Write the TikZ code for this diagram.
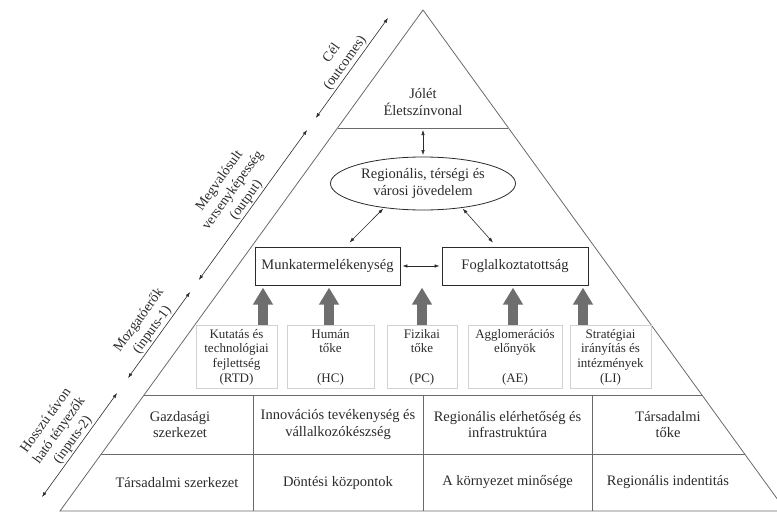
\documentclass[tikz,border=0pt]{standalone}
\usepackage{fontspec}
\setmainfont{Liberation Serif}
\usetikzlibrary{arrows.meta,calc,shapes.geometric}
\definecolor{inkgray}{HTML}{2B2B2B}
\definecolor{linegray}{HTML}{6A6A6A}
\definecolor{boxgray}{HTML}{D2D2D2}
\definecolor{blockgray}{HTML}{6E6E6E}

\begin{document}
\begin{tikzpicture}[x=1pt,y=-1pt,
    font=\fontsize{14.5}{16.5}\selectfont, text=inkgray,
    >={Latex[length=5pt,width=3.5pt]},
    bigbox/.style={draw=inkgray, line width=0.9pt, minimum height=38pt, inner sep=0pt},
    smallbox/.style={draw=boxgray, line width=0.8pt, minimum height=63pt, inner sep=0pt, align=center, font=\fontsize{13}{14.7}\selectfont},
    cell/.style={align=center},
    sidelbl/.style={align=center, inner sep=1.5pt, font=\fontsize{14}{16.5}\selectfont},
    sidearrow/.style={<->, inkgray, line width=0.6pt},
    blockarrow/.style={line width=9.5pt, blockgray, -{Triangle[length=17pt,width=19pt]}}]
    \clip (0,0) rectangle (777,514);

    \coordinate (apex) at (423,10);
    \coordinate (bl) at (60,511);
    \coordinate (br) at (786,511);
    \draw[linegray, line width=0.8pt] (apex) -- (bl) -- (br) -- cycle;
    \foreach \t in {0.2355, 0.7685, 0.8862} {
        \draw[linegray, line width=0.8pt] ($(apex)!\t!(bl)$) -- ($(apex)!\t!(br)$);
    }
    \foreach \x in {253, 423, 592} {
        \draw[linegray, line width=0.8pt] (\x,395) -- (\x,511);
    }

    \node (jolet) at (423,102) [align=center] {Jólét\\Életszínvonal};
    \node (inc) at (423,183.5) [ellipse, draw=inkgray, line width=0.8pt, minimum width=185pt, minimum height=53pt, inner sep=0pt, align=center] {Regionális, térségi és\\városi jövedelem};
    \node (munka) at (327.5,266) [bigbox, minimum width=145pt] {Munkatermelékenység};
    \node (fogl) at (515,266) [bigbox, minimum width=146pt] {Foglalkoztatottság};

    \coordinate (joletline) at (423,130);
    \draw[sidearrow, shorten >=1.5pt] (joletline) -- (inc.north);
    \draw[sidearrow, shorten <=1pt] (inc.212) -- ($(munka.north)+(22,-4)$);
    \draw[sidearrow, shorten <=1pt] (inc.-32) -- ($(fogl.north)+(-22,-4)$);
    \draw[sidearrow] ([xshift=2pt]munka.east) -- ([xshift=-2pt]fogl.west);

    \node (rtd) at (236.5,357) [smallbox, minimum width=81pt] {Kutatás és\\technológiai\\fejlettség\\(RTD)};
    \node (hc) at (330.5,357) [smallbox, minimum width=87pt] {Humán\\tőke\\[14.7pt](HC)};
    \node (pc) at (422,357) [smallbox, minimum width=70pt] {Fizikai\\tőke\\[14.7pt](PC)};
    \node (ae) at (515,357) [smallbox, minimum width=94pt] {Agglomerációs\\előnyök\\[14.7pt](AE)};
    \node (li) at (610.5,357) [smallbox, minimum width=81pt] {Stratégiai\\irányítás és\\intézmények\\(LI)};
    \foreach \src/\dx in {rtd/26.5, hc/-1.5, pc/0, ae/-2, li/-27.5} {
        \draw[blockarrow] ($(\src.north)+(\dx,-0.5)$) -- ++(0,-37);
    }

    \node (gazd) at (180,424.5) [cell] {Gazdasági\\szerkezet};
    \node (innov) at (338,424.5) [cell] {Innovációs tevékenység és\\vállalkozókészség};
    \node (infra) at (507.5,424.5) [cell] {Regionális elérhetőség és\\infrastruktúra};
    \node (tarstoke) at (668,424.5) [cell] {Társadalmi\\tőke};
    \node (tarsszerk) at (177,482.5) {Társadalmi szerkezet};
    \node (dontes) at (338,482.5) {Döntési központok};
    \node (korny) at (507.5,482.5) {A környezet minősége};
    \node (ident) at (668,482.5) {Regionális indentitás};

    % levels along the left side
    \coordinate (s1a) at (388,18);    \coordinate (s1b) at (315.8,118);
    \coordinate (s2a) at (307.1,130); \coordinate (s2b) at (198.8,280);
    \coordinate (s3a) at (190.1,292); \coordinate (s3b) at (128,378);
    \coordinate (s4a) at (117.1,393); \coordinate (s4b) at (42,497);
    \draw[sidearrow] (s1b) -- node[sidelbl, sloped, above] {Cél\\(outcomes)} (s1a);
    \draw[sidearrow] (s2b) -- node[sidelbl, sloped, above] {Megvalósult\\versenyképesség\\(output)} (s2a);
    \draw[sidearrow] (s3b) -- node[sidelbl, sloped, above] {Mozgatóerők\\(inputs-1)} (s3a);
    \draw[sidearrow] (s4b) -- node[sidelbl, sloped, above] {Hosszú távon\\ható tényezők\\(inputs-2)} (s4a);
\end{tikzpicture}
\end{document}
